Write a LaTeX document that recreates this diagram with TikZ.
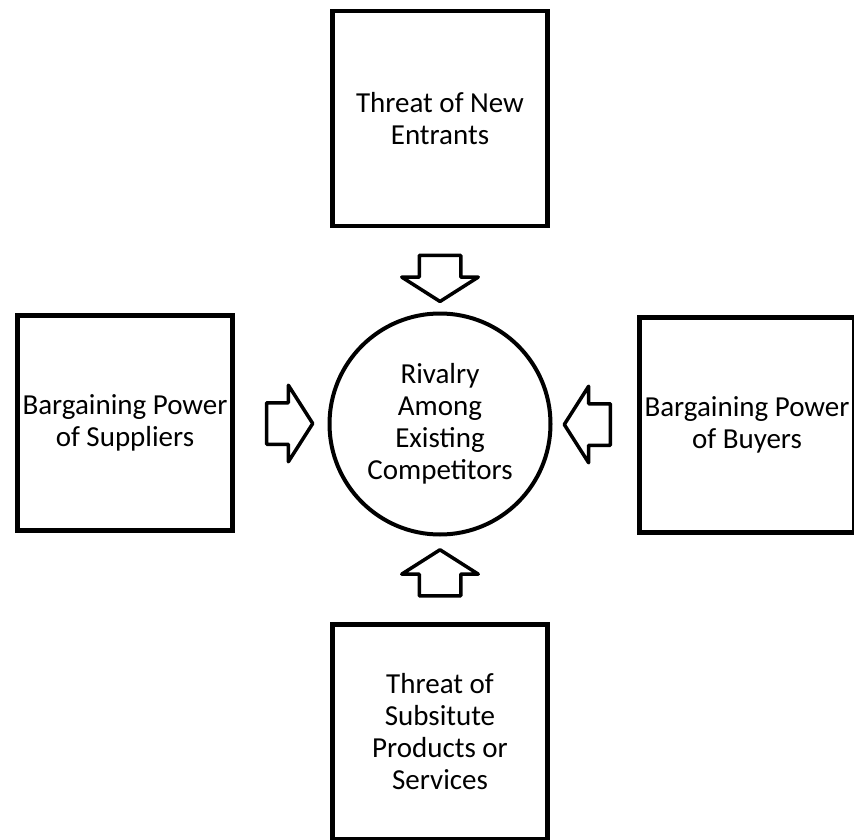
\documentclass[tikz,border=0pt]{standalone}
\usepackage{fontspec}
\setmainfont{Carlito}
\usetikzlibrary{shapes.arrows, calc}

\begin{document}
\begin{tikzpicture}[
  x=1pt, y=-1pt,
  force/.style={draw, line width=4.5pt, minimum width=215pt, minimum height=215pt,
    align=center, font=\fontsize{29}{32}\selectfont, inner sep=0pt},
  core/.style={circle, draw, line width=4pt, minimum size=221pt, align=center,
    font=\fontsize{29}{32}\selectfont, inner sep=0pt},
  push/.style={single arrow, draw, line width=3.5pt, line join=round,
    minimum height=46pt, minimum width=74pt, single arrow head extend=17.5pt,
    single arrow tip angle=115, inner xsep=0pt, inner ysep=19pt}
]
  \useasboundingbox (0,0) rectangle (854,840);
  \clip (0,0) rectangle (854,840);

  % Centre and the four forces
  \node[core] (rivalry) at (440,424) {Rivalry\\Among\\Existing\\Competitors};
  \node[force] (entrants) at (440,118.5) {Threat of New\\Entrants};
  \node[force] (suppliers) at (125,423) {Bargaining Power\\of Suppliers};
  \node[force] (buyers) at (747,425) {Bargaining Power\\of Buyers};
  \node[force] (substitutes) at (440,732) {Threat of\\Subsitute\\Products or\\Services};

  % Block arrows
  \node[push, rotate=-90] (pushTop) at ($(entrants.south)!0.5!(rivalry.north)+(0,2)$) {};
  \node[push] (pushLeft) at ($(suppliers.east)!0.5!(rivalry.west)+(2,0)$) {};
  \node[push, rotate=180] (pushRight) at ($(buyers.west)!0.5!(rivalry.east)+(-1,0)$) {};
  \node[push, rotate=90] (pushBottom) at ($(substitutes.north)!0.5!(rivalry.south)$) {};
\end{tikzpicture}
\end{document}
